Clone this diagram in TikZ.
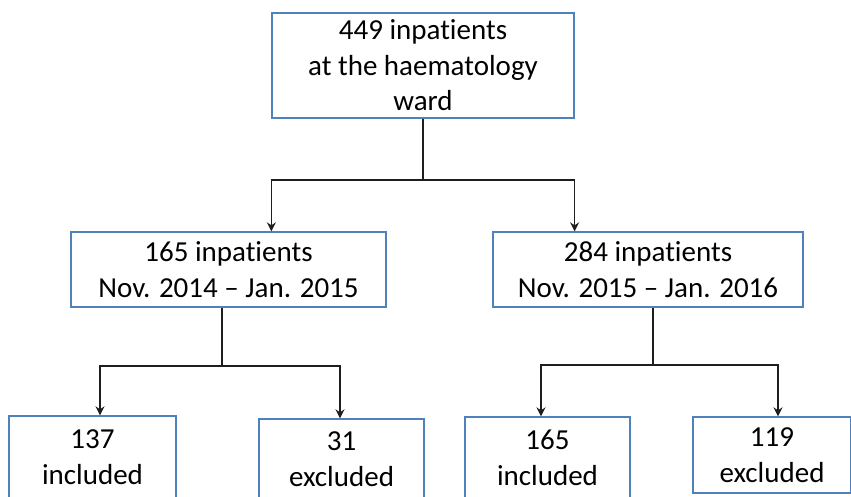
\documentclass[tikz,border=0pt]{standalone}
\usepackage{fontspec}
\setmainfont{Carlito}[Ligatures={NoCommon}]
\usetikzlibrary{arrows.meta,calc}
\definecolor{boxblue}{RGB}{79,129,189}
\definecolor{lineblack}{RGB}{30,30,30}
\tikzset{
  box/.style={draw=boxblue, line width=1.3pt, rectangle, align=center, inner sep=0pt,
    font=\fontsize{29}{35.5}\selectfont, text=black},
  conn/.style={draw=lineblack, line width=1.4pt},
  arr/.style={conn, -{Stealth[length=9pt,width=9pt]}}
}
\begin{document}
\begin{tikzpicture}[x=1pt,y=-1pt]
\useasboundingbox (0,0) rectangle (851,496);
\clip (0,0) rectangle (851,496);
% boxes
\node[box, minimum width=302pt, minimum height=105pt] (top) at (423,65.5)
  {449 inpatients\\at the haematology\\ward};
\node[box, minimum width=315pt, minimum height=75pt] (m1) at (228.5,269.5)
  {165 inpatients\\Nov. 2014 -- Jan. 2015};
\node[box, minimum width=310pt, minimum height=75pt] (m2) at (648,269.5)
  {284 inpatients\\Nov. 2015 -- Jan. 2016};
\node[box, minimum width=167pt, minimum height=82pt] (b1) at (92.5,457)
  {137\\included};
\node[box, minimum width=165pt, minimum height=80pt] (b2) at (341.5,459)
  {31\\excluded};
\node[box, minimum width=165pt, minimum height=82pt] (b3) at (547.5,458)
  {165\\included};
\node[box, minimum width=158pt, minimum height=76pt] (b4) at (772,455)
  {119\\excluded};
% junctions
\coordinate (j0) at (423,180);
\coordinate (j1) at (222,366);
\coordinate (j2) at (653,365);
% connectors
\draw[conn] (top.south) -- (j0);
\draw[arr] (j0) -| (m1.north -| top.west);
\draw[arr] (j0) -| (m2.north -| top.east);
\draw[conn] (j1 |- m1.south) -- (j1);
\draw[arr] (j1) -| ($(b1.north)+(7.5,0)$);
\draw[arr] (j1) -| ($(b2.north)+(-1.5,0)$);
\draw[conn] (j2 |- m2.south) -- (j2);
\draw[arr] (j2) -| ($(b3.north)+(-6.5,0)$);
\draw[arr] (j2) -| ($(b4.north)+(6,0)$);
\end{tikzpicture}
\end{document}
